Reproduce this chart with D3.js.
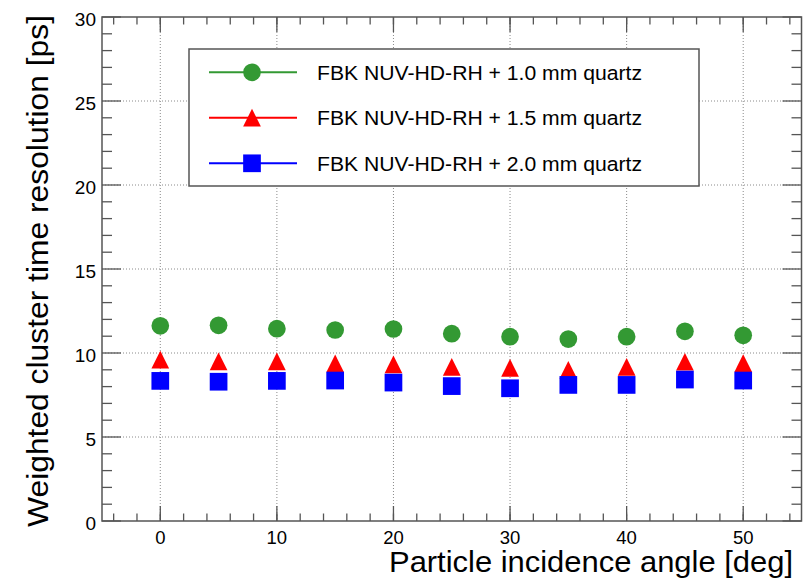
<!DOCTYPE html>
<html>
<head>
<meta charset="utf-8">
<script src="https://cdn.jsdelivr.net/npm/d3@7"></script>
<style>
  html, body { margin: 0; padding: 0; background: #fff; }
  svg { display: block; font-family: "Liberation Sans", Arial, Helvetica, sans-serif; }
</style>
</head>
<body>
<svg id="chart" width="804" height="579"></svg>
<script>
// Incidence angles (deg) and weighted cluster time resolution (ps) per quartz thickness
const angles = [0, 5, 10, 15, 20, 25, 30, 35, 40, 45, 50];
const res10mm = [11.62, 11.65, 11.45, 11.37, 11.43, 11.15, 10.97, 10.83, 10.97, 11.29, 11.05];
const res15mm = [9.61, 9.50, 9.50, 9.38, 9.32, 9.18, 9.12, 9.00, 9.17, 9.48, 9.40];
const res20mm = [8.34, 8.29, 8.34, 8.36, 8.24, 8.03, 7.90, 8.10, 8.10, 8.42, 8.36];

const seriesNames = [
  "FBK NUV-HD-RH + 1.0 mm quartz",
  "FBK NUV-HD-RH + 1.5 mm quartz",
  "FBK NUV-HD-RH + 2.0 mm quartz"
];
const xTickValues = [0, 10, 20, 30, 40, 50];
const yTickValues = [0, 5, 10, 15, 20, 25, 30];
const xTitle = "Particle incidence angle [deg]";
const yTitle = "Weighted cluster time resolution [ps]";

const series = [
  { name: seriesNames[0], values: res10mm, color: "#339933", shape: "circle" },
  { name: seriesNames[1], values: res15mm, color: "#ff0000", shape: "triangle" },
  { name: seriesNames[2], values: res20mm, color: "#0000ff", shape: "square" }
];

const svg = d3.select("#chart");
const padL = 102, padR = 801.5, padT = 17, padB = 521;

const x = d3.scaleLinear().domain([-5, 55]).range([padL, padR]);
const y = d3.scaleLinear().domain([0, 30]).range([padB, padT]);

const frameColor = "#555";

// Dotted grid at the major ticks
const grid = svg.append("g").attr("stroke", "#8a8a8a").attr("stroke-width", 1)
  .attr("stroke-dasharray", "1,2");
grid.selectAll("line.gx").data(xTickValues).join("line")
  .attr("x1", d => x(d)).attr("x2", d => x(d))
  .attr("y1", padT).attr("y2", padB);
grid.selectAll("line.gy").data(yTickValues.filter(v => v > 0 && v < 30)).join("line")
  .attr("x1", padL).attr("x2", padR)
  .attr("y1", d => y(d)).attr("y2", d => y(d));

// Inward ticks on all four sides
const ticks = svg.append("g").attr("stroke", frameColor).attr("stroke-width", 1.3);
const xMinor = d3.range(-4, 55, 2);
const xMajor = xTickValues;
const yMinor = d3.range(0, 31, 1).filter(v => v % 5 !== 0);
const yMajor = yTickValues;

function addXTicks(vals, len) {
  vals.forEach(v => {
    ticks.append("line").attr("x1", x(v)).attr("x2", x(v)).attr("y1", padB).attr("y2", padB - len);
    ticks.append("line").attr("x1", x(v)).attr("x2", x(v)).attr("y1", padT).attr("y2", padT + len);
  });
}
function addYTicks(vals, len) {
  vals.forEach(v => {
    ticks.append("line").attr("x1", padL).attr("x2", padL + len).attr("y1", y(v)).attr("y2", y(v));
    ticks.append("line").attr("x1", padR).attr("x2", padR - len).attr("y1", y(v)).attr("y2", y(v));
  });
}
addXTicks(xMinor, 7.5);
addXTicks(xMajor, 15);
addYTicks(yMinor, 10);
addYTicks(yMajor, 19);

// Frame
svg.append("rect")
  .attr("x", padL).attr("y", padT)
  .attr("width", padR - padL).attr("height", padB - padT)
  .attr("fill", "none").attr("stroke", frameColor).attr("stroke-width", 1.5);

// Tick labels
svg.append("g").selectAll("text").data(xTickValues).join("text")
  .attr("x", d => x(d)).attr("y", 544)
  .attr("text-anchor", "middle").attr("font-size", 18.5).attr("fill", "#000")
  .text(d => d);
svg.append("g").selectAll("text").data(yTickValues).join("text")
  .attr("x", 96).attr("y", d => y(d) + 9)
  .attr("text-anchor", "end").attr("font-size", 19).attr("fill", "#000")
  .text(d => d);

// Axis titles
svg.append("text")
  .attr("x", 793).attr("y", 572)
  .attr("text-anchor", "end").attr("font-size", 29).attr("fill", "#000")
  .attr("textLength", 404).attr("lengthAdjust", "spacingAndGlyphs")
  .text(xTitle);
svg.append("text")
  .attr("transform", "translate(48,15) rotate(-90)")
  .attr("text-anchor", "end").attr("font-size", 30).attr("fill", "#000")
  .attr("textLength", 512).attr("lengthAdjust", "spacingAndGlyphs")
  .text(yTitle);

// Marker drawing
const mSize = 17.7;
function drawMarker(g, shape, cx, cy, color) {
  if (shape === "circle") {
    g.append("circle").attr("cx", cx).attr("cy", cy).attr("r", mSize / 2).attr("fill", color);
  } else if (shape === "triangle") {
    const h = mSize / 2;
    g.append("path")
      .attr("d", `M${cx},${cy - h}L${cx + h},${cy + h}L${cx - h},${cy + h}Z`)
      .attr("fill", color);
  } else {
    g.append("rect").attr("x", cx - mSize / 2).attr("y", cy - mSize / 2)
      .attr("width", mSize).attr("height", mSize).attr("fill", color);
  }
}

const marks = svg.append("g");
series.forEach(s => {
  const g = marks.append("g");
  angles.forEach((a, i) => drawMarker(g, s.shape, x(a), y(s.values[i]), s.color));
});

// Legend
const legend = svg.append("g");
legend.append("rect")
  .attr("x", 189).attr("y", 49).attr("width", 510).attr("height", 137)
  .attr("fill", "#fff").attr("stroke", frameColor).attr("stroke-width", 1.5);
const legendRows = [72.3, 117.7, 163.3];
series.forEach((s, i) => {
  const ly = legendRows[i];
  legend.append("line").attr("x1", 209).attr("x2", 297).attr("y1", ly).attr("y2", ly)
    .attr("stroke", s.color).attr("stroke-width", 2);
  drawMarker(legend, s.shape, 252, ly, s.color);
  legend.append("text").attr("x", 317).attr("y", ly + 7.3)
    .attr("font-size", 20.5).attr("fill", "#000")
    .attr("textLength", 325).attr("lengthAdjust", "spacingAndGlyphs")
    .text(s.name);
});
</script>
</body>
</html>
